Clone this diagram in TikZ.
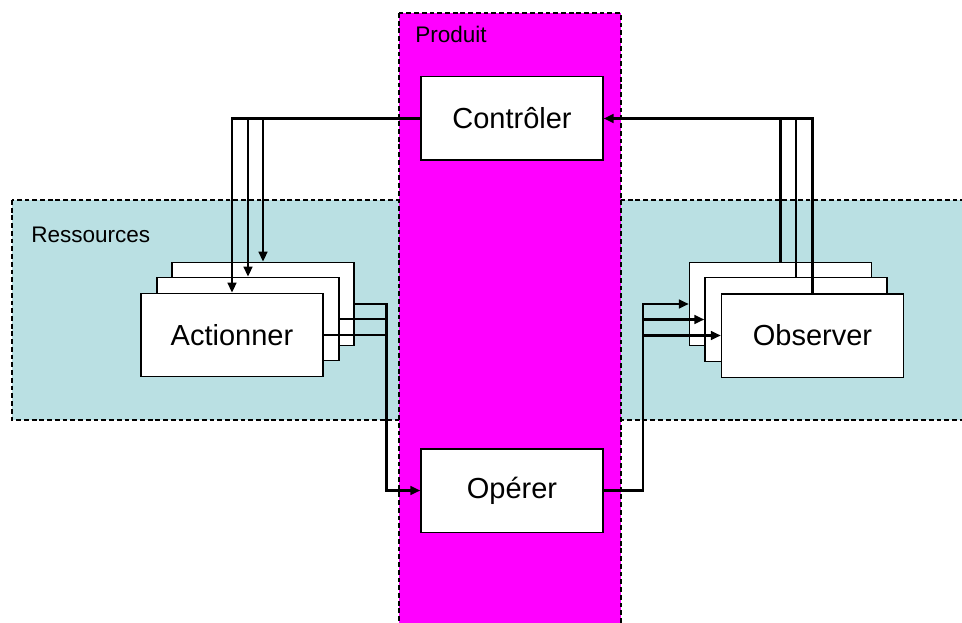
\documentclass[tikz,border=0pt]{standalone}
\usepackage{fontspec}
\setmainfont{Liberation Sans}
\usetikzlibrary{arrows.meta}
\definecolor{prodmag}{HTML}{FF00FF}
\definecolor{resblue}{HTML}{BAE0E3}
\tikzset{
  zone/.style={draw=black, line width=1.8pt, dash pattern=on 3.6pt off 2.2pt},
  box/.style={draw=black, fill=white, line width=1pt, minimum width=136.5pt, minimum height=62.5pt, inner sep=0pt, font=\fontsize{21.75}{26}\selectfont},
  wire/.style={line width=2pt, line cap=rect},
  arr/.style={wire, -{Triangle[length=7.5pt,width=6.5pt]}},
  zonelabel/.style={anchor=base west, inner sep=0pt, font=\fontsize{16.9}{20}\selectfont}
}
\begin{document}
\begin{tikzpicture}[x=0.75pt,y=-0.75pt]
\useasboundingbox (0,0) rectangle (962,623);
\clip (0,0) rectangle (962,623);
% zones
\fill[white] (0,0) rectangle (962,623);
\draw[zone, fill=resblue] (12,200) rectangle (980,420);
\node[zonelabel] (lres) at (31,243) {Ressources};
\draw[zone, fill=prodmag] (399,13) rectangle (621,640);
\node[zonelabel] (lprod) at (415,43) {Produit};
% product nodes
\node[box] (ctrl) at (512,118.5) {Contrôler};
\node[box] (oper) at (512,490.5) {Opérer};
% resource stacks
\node[box] (act3) at (263,304) {};
\node[box] (act2) at (248,319) {};
\node[box] (act1) at (232,335) {Actionner};
\node[box] (obs3) at (780.5,304) {};
\node[box] (obs2) at (796,319.5) {};
\node[box] (obs1) at (812.5,335.5) {Observer};
% buses
\coordinate (busL) at (386.5,490.5);
\coordinate (busR) at (643,490.5);
% Contrôler -> Actionner
\draw[arr] (ctrl.west) -| (act1.north);
\draw[arr] (act2.north |- ctrl.west) -- (act2.north);
\draw[arr] (act3.north |- ctrl.west) -- (act3.north);
% Actionner -> Opérer
\draw[arr] (act3.east) -| (busL) -- (oper.west);
\draw[wire] (act2.east) -- (act2.east -| busL);
\draw[wire] (act1.east) -- (act1.east -| busL);
% Opérer -> Observer
\draw[arr] (oper.east) -- (busR) |- (obs3.west);
\draw[arr] (obs2.west -| busR) -- (obs2.west);
\draw[arr] (obs1.west -| busR) -- (obs1.west);
% Observer -> Contrôler
\draw[arr] (obs1.north) |- (ctrl.east);
\draw[wire] (obs2.north) -- (obs2.north |- ctrl.east);
\draw[wire] (obs3.north) -- (obs3.north |- ctrl.east);
\end{tikzpicture}
\end{document}
